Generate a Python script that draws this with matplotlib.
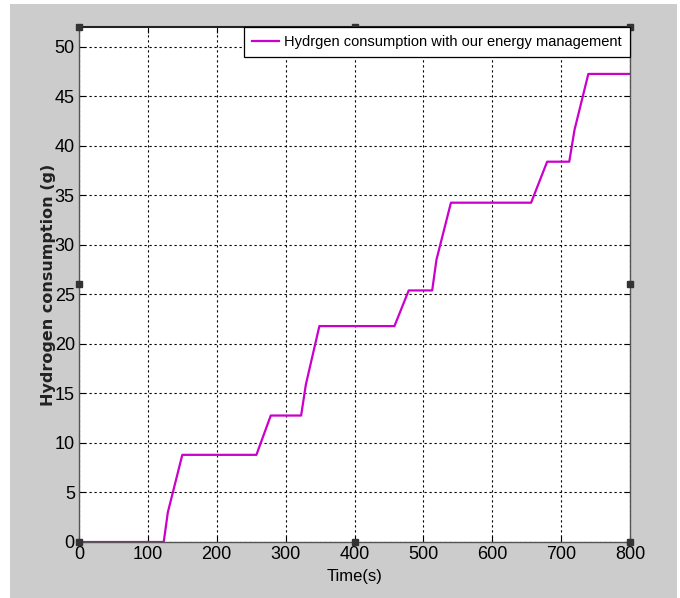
import matplotlib
matplotlib.use("Agg")
import matplotlib.pyplot as plt
from matplotlib.patches import Rectangle
import numpy as np

# Data
time_s = [0, 123, 129, 150, 257.6, 278.4, 322.5, 329.4, 349, 458, 478.7, 512.8,
          519, 540, 656.4, 679.7, 711.8, 719.4, 739.5, 800]
hydrogen_g = [0, 0, 3.0, 8.8, 8.8, 12.77, 12.77, 15.9, 21.8, 21.8, 25.4, 25.4,
              28.5, 34.26, 34.26, 38.4, 38.4, 41.6, 47.26, 47.26]
x_ticks = [0, 100, 200, 300, 400, 500, 600, 700, 800]
y_ticks = [0, 5, 10, 15, 20, 25, 30, 35, 40, 45, 50]
legend_label = "Hydrgen consumption with our energy management"

W, H = 680, 598
fig = plt.figure(figsize=(W / 100, H / 100), dpi=100, facecolor="white")
# gray figure panel
fig.patches.append(Rectangle((10 / W, 0), (677 - 10) / W, (598 - 4) / H,
                             transform=fig.transFigure, facecolor="#cccccc",
                             edgecolor="none", zorder=-10))

sans = ["Liberation Sans", "DejaVu Sans"]

ax = fig.add_axes([79 / W, (H - 542) / H, (630 - 79) / W, (542 - 27) / H])
ax.set_facecolor("white")
ax.plot(time_s, hydrogen_g, color="#cc00cc", lw=1.6, label=legend_label, zorder=3)
ax.set_xlim(0, 800)
ax.set_ylim(0, 52)
ax.set_xticks(x_ticks)
ax.set_yticks(y_ticks)
ax.grid(True, color="black", linestyle=(0, (2, 2.5)), linewidth=0.8)
ax.tick_params(direction="in", length=4, width=0.8, top=True, right=True,
               labelsize=13, pad=3, colors="black")
for lab in ax.get_xticklabels() + ax.get_yticklabels():
    lab.set_family(sans)
for side in ["left", "right", "bottom"]:
    ax.spines[side].set_color("#555555")
    ax.spines[side].set_linewidth(1.0)
ax.spines["top"].set_color("#222222")
ax.spines["top"].set_linewidth(1.5)

ax.set_xlabel("Time(s)", family=sans, fontsize=12, labelpad=4)
ax.set_ylabel("Hydrogen consumption (g)", family="DejaVu Sans", fontsize=11.5,
              fontweight="bold", color="#222222", labelpad=-1)

leg = ax.legend(loc="upper right", borderaxespad=0, fancybox=False,
                framealpha=1, edgecolor="black", handlelength=1.9,
                handletextpad=0.35, borderpad=0.55,
                prop={"family": sans, "size": 10.5})
leg.get_frame().set_linewidth(0.9)

# MATLAB selection handles
hx = [0, 400, 800, 0, 800, 0, 400, 800]
hy = [0, 0, 0, 26, 26, 52, 52, 52]
ax.plot(hx, hy, linestyle="none", marker="s", markersize=5, color="#333333",
        clip_on=False, zorder=5)

fig.savefig("out.png", dpi=100, facecolor="white")
